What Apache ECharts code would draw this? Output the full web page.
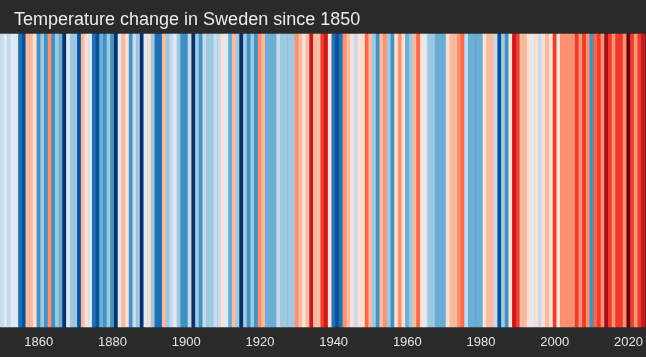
<!DOCTYPE html>
<html>
<head>
<meta charset="utf-8">
<script src="https://cdn.jsdelivr.net/npm/echarts@6/dist/echarts.min.js"></script>
<style>
  html, body { margin: 0; padding: 0; background: #2a2a2a; }
  #chart { width: 646px; height: 357px; }
</style>
</head>
<body>
<div id="chart"></div>
<script>
const startYear = 1850;
// Temperature anomaly (°C) per year, 1850–2024
const anomalies = [
  -0.4,-0.1,-0.4,-0.1,-0.1,-1.4,-1.6,0.4,0.4,0.1,
  -1.1,-0.6,-1.1,0.6,-1.1,-0.6,-0.9,-1.9,-0.1,-0.6,
  -0.6,-1.6,0.4,0.1,-0.1,-1.4,-1.6,-0.9,-1.1,-0.6,
  -1.1,-1.9,-0.1,0.4,0.1,-1.1,-0.4,-0.6,-1.9,-0.1,
  0.1,-0.6,-1.4,-1.4,0.4,-0.6,-0.4,-0.1,-0.6,-1.1,
  -1.1,-0.4,-1.9,-0.6,-1.1,-0.4,-0.6,-0.6,-0.4,-0.4,
  0.1,-0.1,-0.9,0.4,-0.6,-1.9,-0.6,-1.1,-0.6,-1.1,
  0.6,0.4,-0.9,-0.9,-0.9,-0.4,-0.6,-0.6,-0.6,-0.6,
  0.6,0.4,0.1,0.4,1.4,0.4,0.4,1.1,1.4,0.1,
  -1.4,-1.6,-1.4,0.6,0.4,0.1,-0.4,0.1,0.1,0.9,
  0.4,-0.6,-1.1,0.4,0.6,-0.6,-1.1,0.1,0.6,0.1,
  -0.9,-0.6,0.4,0.9,0.1,-0.1,-0.6,-0.6,-0.9,-0.9,
  -0.9,0.1,0.4,0.4,0.6,0.9,-0.4,-0.9,-0.9,-0.9,
  -0.9,0.1,0.4,0.4,-0.4,-1.6,-0.6,-1.1,0.1,1.4,
  1.1,0.4,0.4,0.1,-0.1,0.1,-0.4,0.1,0.4,0.1,
  1.1,0.1,0.6,0.6,0.6,0.6,1.1,0.6,1.1,0.6,
  -1.1,0.9,1.1,0.6,1.6,1.1,0.6,1.1,1.1,0.6,
  1.9,1.1,0.6,1.1,1.4
];
const years = anomalies.map((_, i) => String(startYear + i));
const labelYears = ['1860','1880','1900','1920','1940','1960','1980','2000','2020'];
const stripeColors = ['#08306b','#08519c','#2171b5','#4292c6','#6baed6','#9ecae1','#c6dbef','#deebf7',
                      '#fee0d2','#fcbba1','#fc9272','#fb6a4a','#ef3b2c','#cb181d','#a50f15','#67000d'];
const binEdges = [-2,-1.75,-1.5,-1.25,-1,-0.75,-0.5,-0.25,0,0.25,0.5,0.75,1,1.25,1.5,1.75,2];

const pieces = stripeColors.map((c, i) => ({ gte: binEdges[i], lt: binEdges[i + 1], color: c }));
const cells = anomalies.map((v, i) => [i, 0, v]);

const chart = echarts.init(document.getElementById('chart'));
chart.setOption({
  backgroundColor: '#2a2a2a',
  animation: false,
  title: {
    text: 'Temperature change in Sweden since 1850',
    left: 9, top: 6,
    textStyle: { color: '#ececec', fontSize: 18, fontWeight: 'normal', fontFamily: 'Liberation Sans, Arial, sans-serif' }
  },
  grid: { left: 0, right: 0, top: 34, bottom: 30 },
  xAxis: {
    type: 'category',
    data: years,
    axisLine: { show: false },
    axisTick: { show: false },
    splitLine: { show: false },
    axisLabel: {
      color: '#e6e6e6', fontSize: 13, margin: 9,
      fontFamily: 'Liberation Sans, Arial, sans-serif',
      interval: (idx, val) => labelYears.includes(val)
    }
  },
  yAxis: { type: 'category', data: [''], show: false },
  visualMap: { type: 'piecewise', show: false, dimension: 2, pieces: pieces },
  series: [{
    type: 'heatmap',
    data: cells,
    itemStyle: { borderWidth: 0 },
    emphasis: { disabled: true }
  }]
});
</script>
</body>
</html>
